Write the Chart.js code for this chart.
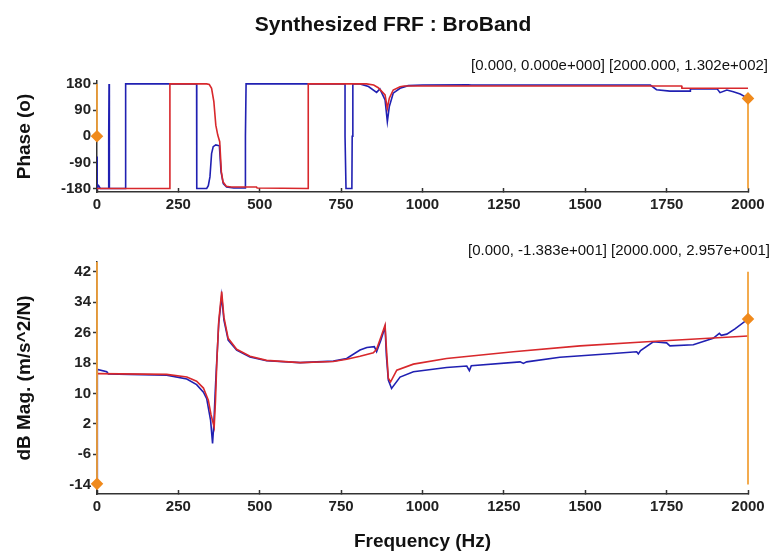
<!DOCTYPE html>
<html>
<head>
<meta charset="utf-8">
<script src="https://cdn.jsdelivr.net/npm/chart.js@4.4.1/dist/chart.umd.min.js"></script>
<style>
  body { margin: 0; background: #fff; font-family: "Liberation Sans", Arial, sans-serif; }
  #wrap { position: relative; width: 775px; height: 554px; overflow: hidden; }
  .txt { position: absolute; white-space: nowrap; color: #111; }
  #title { left: 0; width: 786px; top: 12px; text-align: center; font-size: 21px; line-height: 24px; font-weight: bold; }
  #noteTop { right: 7px; top: 56px; font-size: 15px; line-height: 18px; }
  #noteBot { right: 5px; top: 241px; font-size: 15px; line-height: 18px; }
  #cPhase { position: absolute; left: 0; top: 0; }
  #cMag { position: absolute; left: 0; top: 225px; }
</style>
</head>
<body>
<div id="wrap">
  <canvas id="cPhase" width="775" height="225"></canvas>
  <canvas id="cMag" width="775" height="329"></canvas>
  <div class="txt" id="title">Synthesized FRF : BroBand</div>
  <div class="txt" id="noteTop">[0.000, 0.000e+000] [2000.000, 1.302e+002]</div>
  <div class="txt" id="noteBot">[0.000, -1.383e+001] [2000.000, 2.957e+001]</div>
</div>
<script>
// --- données ---
const freqTicks = [0, 250, 500, 750, 1000, 1250, 1500, 1750, 2000];
const phaseTicks = [-180, -90, 0, 90, 180];
const magTicks = [-14, -6, 2, 10, 18, 26, 34, 42];

// phase mesurée (bleu)
const phaseFreqMeas = [0, 0.5, 5, 10, 36, 36, 37, 38, 88, 88, 306, 306, 307, 337, 342, 347, 352, 357, 365, 376, 381, 388, 398, 420, 455, 456, 458,
  762, 762, 765, 783, 784, 786, 808, 834, 859, 869, 885, 892, 898, 910, 931, 956, 1000, 1140, 1150, 1700, 1719, 1760, 1822, 1823,
  1905, 1914, 1935, 1955, 1976, 2000];
const phaseMeas = [-70, -180, -170, -180, -180, 0, 180, -180, -180, 180, 180, 0, -180, -180, -170, -140, -60, -36, -30, -33, -122, -163, -175, -178, -178, 0, 180,
  180, 0, -180, -180, 0, 180, 180, 171, 151, 163, 125, 50, 102, 148, 165, 174, 176, 177, 176, 176, 160, 155, 155, 163,
  163, 150, 159, 153, 145, 130.2];

// phase synthétisée (rouge)
const phaseFreqSyn = [0, 224, 224, 337, 345, 352, 359, 365, 371, 377, 382, 387, 397, 412, 490, 492, 649, 649,
  828, 850, 864, 885, 892, 898, 910, 931, 944, 1000, 1796, 1797, 2000];
const phaseSyn = [-180, -180, 180, 180, 178, 165, 119, 38, 4, -19, -122, -157, -172, -175, -175, -178, -180, 180,
  180, 176, 167, 142, 96, 131, 159, 170, 173, 173, 173, 165, 165];

// amplitude mesurée (bleu)
const magFreqMeas = [0, 1, 30, 35, 100, 214, 276, 306, 327, 337, 349, 355, 359, 363, 367, 374, 383, 390, 403, 429, 470, 521, 624, 726, 767,
  808, 829, 852, 859, 872, 885, 889, 895, 905, 931, 972, 1074, 1136, 1144, 1150, 1300, 1310, 1320, 1422, 1586, 1658, 1663, 1670,
  1709, 1750, 1760, 1832, 1893, 1912, 1918, 1935, 1960, 2000];
const magMeas = [-13.8, 16.3, 15.7, 15.1, 15, 14.8, 13.8, 12.3, 10.3, 8.6, 2.9, -3.2, 2, 10, 17, 28.4, 35.6, 29.3, 24, 21.4, 19.6, 18.6, 18.1, 18.5, 19.2,
  21.4, 22.1, 22.3, 21, 24, 27.5, 20, 13.5, 11.3, 14.3, 15.7, 16.8, 17.2, 16, 17.3, 18.3, 17.9, 18.3, 19.5, 20.5, 20.95, 20.4, 21.3,
  23.6, 23.3, 22.5, 22.8, 24.5, 25.8, 25.3, 25.6, 27, 29.57];

// amplitude synthétisée (rouge)
const magFreqSyn = [0, 214, 276, 306, 327, 342, 350, 360, 364, 368, 374, 383, 390, 403, 429, 470, 521, 624, 726, 767, 808, 849, 859, 875, 885,
  889, 895, 902, 921, 972, 1074, 1279, 1484, 1689, 1893, 2000];
const magSyn = [15.2, 15, 14.3, 13.2, 11.4, 8.2, 4.5, 1.1, 8, 18, 29, 36.8, 30, 24.5, 21.6, 19.8, 18.7, 18.1, 18.4, 19, 19.8, 20.7, 21.6, 25.5, 28,
  22, 14, 13, 16.1, 17.7, 19.2, 20.95, 22.5, 23.6, 24.6, 25.1];

// curseurs (fréquence, valeur, étendue du trait)
const cursorFreq = [0, 2000];
const phaseCursorVal = [0, 130.2];
const phaseCursorSpan = [[0, 180], [-180, 130.2]];
const magCursorVal = [-13.83, 29.57];
const magCursorSpan = [[-13.83, 44.6], [-14, 42]];

const BLUE = '#2020b2';
const RED = '#d8282c';
const ORANGE = '#f2a23c';

function pts(xs, ys) { return xs.map((x, i) => ({ x: x, y: ys[i] })); }

function curveSet(xs, ys, color) {
  return { data: pts(xs, ys), borderColor: color, borderWidth: 1.6, pointRadius: 0, fill: false, tension: 0 };
}

// traits orange + losange, pas de découpe au bord de la zone
function cursorSets(vals, spans) {
  return cursorFreq.map((f, i) => {
    const ys = [spans[i][0], vals[i], spans[i][1]];
    return {
      data: ys.map(y => ({ x: f, y: y })),
      borderColor: ORANGE, borderWidth: 1.8,
      pointStyle: 'rectRot', pointRadius: [0, 5, 0],
      pointBackgroundColor: '#f08a1c', pointBorderColor: '#f08a1c',
      fill: false, clip: false
    };
  });
}

const tickFont = { family: '"Liberation Sans", Arial, sans-serif', size: 15, weight: 'bold' };
const titleFont = { family: '"Liberation Sans", Arial, sans-serif', size: 19, weight: 'bold' };

function xAxis(height, title) {
  return {
    type: 'linear', min: 0, max: 2000,
    afterBuildTicks: s => { s.ticks = freqTicks.map(v => ({ value: v })); },
    afterFit: s => { s.height = height; },
    ticks: { font: tickFont, color: '#222', padding: 8, maxRotation: 0, autoSkip: false, callback: v => String(v) },
    grid: { drawOnChartArea: false, tickLength: -4, color: '#333', tickWidth: 1.5 },
    border: { color: '#333', width: 1.5 },
    title: { display: !!title, text: title || '', font: titleFont, color: '#111', padding: { top: 0, bottom: 1 } }
  };
}

function yAxis(min, max, ticks, title) {
  return {
    type: 'linear', min: min, max: max,
    afterBuildTicks: s => { s.ticks = ticks.map(v => ({ value: v })); },
    afterFit: s => { s.width = 97; },
    ticks: { font: tickFont, color: '#222', padding: 2, callback: v => String(v) },
    grid: { drawOnChartArea: false, tickLength: 4, color: '#333', tickWidth: 1.5 },
    border: { color: '#333', width: 1.5 },
    title: { display: true, text: title, font: titleFont, color: '#111', padding: { top: 13, bottom: 0 } }
  };
}

function baseOptions(pad, x, y) {
  return {
    responsive: false,
    animation: false,
    layout: { padding: pad },
    plugins: { legend: { display: false }, tooltip: { enabled: false } },
    scales: { x: x, y: y }
  };
}

new Chart(document.getElementById('cPhase'), {
  type: 'line',
  data: {
    datasets: cursorSets(phaseCursorVal, phaseCursorSpan).concat([
      curveSet(phaseFreqSyn, phaseSyn, RED),
      curveSet(phaseFreqMeas, phaseMeas, BLUE)
    ])
  },
  options: baseOptions({ left: 0, right: 27, top: 81, bottom: 0 },
    xAxis(33, null),
    yAxis(-192, 190, phaseTicks, 'Phase (o)'))
});

new Chart(document.getElementById('cMag'), {
  type: 'line',
  data: {
    datasets: cursorSets(magCursorVal, magCursorSpan).concat([
      curveSet(magFreqSyn, magSyn, RED),
      curveSet(magFreqMeas, magMeas, BLUE)
    ])
  },
  options: baseOptions({ left: 0, right: 27, top: 37, bottom: 0 },
    xAxis(60, 'Frequency (Hz)'),
    yAxis(-16.5, 44.6, magTicks, 'dB Mag. (m/s^2/N)'))
});
</script>
</body>
</html>
